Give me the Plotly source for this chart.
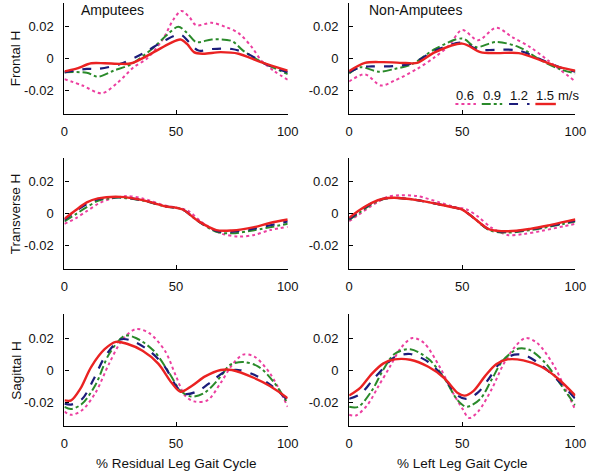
import plotly.graph_objects as go

# ---------------- data (x = % gait cycle, y = angular momentum H) ----------------
SPEEDS = ["0.6", "0.9", "1.2", "1.5"]

# Frontal H, Amputees
fa_06 = [(0,-0.013),(8,-0.017),(16.7,-0.0219),(24,-0.015),(31,-0.0055),(37,0.0),(44,0.012),(49,0.025),(52.5,0.030),(56,0.026),(59,0.021),(66,0.0225),(72,0.020),(78,0.016),(84,0.007),(88,-0.001),(94,-0.008),(100,-0.0134)]
fa_09 = [(0,-0.0087),(10,-0.009),(15,-0.0115),(22,-0.0077),(30,-0.0035),(40,0.007),(46,0.015),(51,0.020),(55,0.016),(59,0.0104),(66,0.012),(75,0.011),(80,0.005),(88,-0.002),(100,-0.0098)]
fa_12 = [(0,-0.0087),(10,-0.0066),(15,-0.0066),(25,-0.0034),(35,0.003),(45,0.0115),(52,0.015),(56,0.010),(60,0.005),(66,0.006),(75,0.006),(82,0.003),(90,-0.0034),(100,-0.0087)]
fa_15 = [(0,-0.0081),(5,-0.0066),(12,-0.003),(18,-0.003),(25,-0.0034),(30,-0.003),(40,0.004),(47,0.0094),(52,0.012),(55,0.009),(58,0.004),(62,0.003),(70,0.004),(78,0.003),(88,-0.0023),(100,-0.0077)]

# Frontal H, Non-Amputees
fn_06 = [(0,-0.0145),(7,-0.010),(14,-0.017),(20,-0.014),(30,-0.0066),(38,0.001),(44,0.008),(50,0.018),(57,0.0115),(65,0.0194),(72,0.0136),(80,0.0072),(88,-0.0013),(100,-0.0145)]
fn_09 = [(0,-0.0094),(5,-0.0055),(13,-0.0083),(20,-0.0066),(28,-0.0034),(38,0.006),(50,0.0126),(56,0.0072),(65,0.0104),(75,0.0072),(85,-0.0013),(93,-0.0066),(100,-0.0094)]
fn_12 = [(0,-0.0087),(5,-0.0055),(10,-0.005),(20,-0.0048),(28,-0.003),(38,0.005),(50,0.010),(57,0.0055),(65,0.0055),(75,0.005),(85,-0.0008),(93,-0.0055),(100,-0.0083)]
fn_15 = [(0,-0.008),(7,-0.0028),(15,-0.0023),(25,-0.0028),(30,-0.0028),(38,0.004),(50,0.0094),(58,0.004),(65,0.0034),(75,0.0034),(85,-0.0013),(93,-0.0055),(100,-0.0077)]

# Transverse H, Amputees
ta_06 = [(0,-0.0065),(5,-0.003),(10,0.0015),(15,0.006),(20,0.009),(28,0.011),(35,0.0095),(45,0.005),(50,0.0038),(55,0.002),(62,-0.006),(70,-0.0125),(78,-0.0145),(85,-0.0135),(92,-0.0105),(100,-0.0085)]
ta_09 = [(0,-0.005),(5,-0.0005),(10,0.004),(15,0.008),(20,0.0095),(25,0.010),(35,0.0082),(45,0.0045),(50,0.0036),(53,0.0025),(60,-0.005),(68,-0.0115),(75,-0.0125),(85,-0.0105),(100,-0.0065)]
ta_12 = [(0,-0.004),(5,0.0015),(10,0.006),(15,0.009),(25,0.0103),(35,0.0083),(45,0.0046),(50,0.0036),(53,0.0025),(60,-0.0048),(68,-0.011),(75,-0.0115),(85,-0.0095),(100,-0.005)]
ta_15 = [(0,-0.0034),(5,0.002),(10,0.007),(15,0.0095),(25,0.0105),(35,0.0084),(45,0.0046),(50,0.0036),(53,0.0025),(60,-0.0048),(68,-0.0105),(75,-0.0107),(85,-0.0086),(92,-0.006),(100,-0.0038)]

# Transverse H, Non-Amputees
tn_06 = [(0,-0.0048),(4,-0.001),(9,0.004),(13,0.0075),(17,0.0105),(22,0.0115),(30,0.011),(40,0.007),(47,0.004),(52,0.0025),(57,-0.002),(63,-0.009),(70,-0.0135),(77,-0.013),(85,-0.011),(95,-0.008),(100,-0.0065)]
tn_09 = [(0,-0.004),(5,0.001),(10,0.006),(15,0.009),(20,0.0098),(30,0.0085),(40,0.0057),(47,0.0036),(50,0.0025),(55,-0.0027),(62,-0.0105),(70,-0.012),(80,-0.0105),(88,-0.0085),(95,-0.0065),(100,-0.005)]
tn_12 = [(0,-0.0035),(5,0.0018),(10,0.0065),(15,0.0092),(20,0.0099),(30,0.0084),(40,0.0057),(47,0.0036),(50,0.0025),(55,-0.0027),(62,-0.0102),(70,-0.0115),(80,-0.010),(88,-0.008),(95,-0.006),(100,-0.0045)]
tn_15 = [(0,-0.0027),(5,0.0025),(10,0.0067),(15,0.0093),(20,0.0099),(30,0.0084),(40,0.0057),(47,0.0036),(50,0.0025),(55,-0.0027),(62,-0.010),(70,-0.0112),(80,-0.0097),(88,-0.0076),(95,-0.0053),(100,-0.0038)]

# Sagittal H, Amputees
sa_06 = [(0,-0.026),(3,-0.028),(8,-0.025),(14,-0.014),(20,0.004),(26,0.019),(32,0.0256),(38,0.023),(45,0.012),(50,-0.004),(54,-0.016),(58,-0.0196),(64,-0.019),(70,-0.008),(75,0.003),(80,0.0096),(85,0.0084),(92,-0.002),(100,-0.023)]
sa_09 = [(0,-0.023),(3,-0.0244),(8,-0.021),(14,-0.009),(20,0.010),(27,0.0214),(32,0.020),(40,0.012),(47,-0.002),(52,-0.013),(57,-0.0166),(63,-0.014),(70,-0.004),(74,0.003),(80,0.005),(87,0.002),(94,-0.008),(100,-0.021)]
sa_12 = [(0,-0.021),(3,-0.0216),(8,-0.018),(13,-0.006),(18,0.008),(25,0.019),(30,0.0184),(38,0.012),(45,0.002),(50,-0.010),(54,-0.015),(60,-0.013),(66,-0.007),(72,-0.001),(78,0.0),(85,-0.003),(93,-0.010),(100,-0.019)]
sa_15 = [(0,-0.019),(3,-0.019),(7,-0.012),(12,0.002),(18,0.013),(23,0.0176),(28,0.0164),(35,0.012),(42,0.004),(48,-0.008),(52,-0.0136),(57,-0.010),(63,-0.004),(70,0.0),(75,0.0),(85,-0.005),(92,-0.010),(100,-0.0176)]

# Sagittal H, Non-Amputees
sn_06 = [(0,-0.028),(3,-0.0284),(8,-0.022),(13,-0.010),(18,0.002),(23,0.014),(28,0.020),(33,0.017),(40,0.002),(45,-0.012),(50,-0.024),(53,-0.030),(57,-0.026),(63,-0.012),(68,0.003),(73,0.014),(78,0.020),(83,0.017),(90,0.004),(95,-0.010),(100,-0.025)]
sn_09 = [(0,-0.023),(4,-0.023),(10,-0.013),(15,0.0),(20,0.010),(27,0.013),(35,0.007),(42,-0.005),(48,-0.019),(52,-0.023),(58,-0.018),(63,-0.006),(68,0.006),(75,0.0134),(80,0.0124),(87,0.004),(93,-0.008),(100,-0.022)]
sn_12 = [(0,-0.018),(5,-0.015),(10,-0.007),(15,0.001),(20,0.008),(27,0.010),(35,0.005),(42,-0.005),(48,-0.016),(52,-0.018),(57,-0.014),(62,-0.005),(67,0.005),(73,0.0096),(78,0.009),(85,0.003),(92,-0.006),(100,-0.018)]
sn_15 = [(0,-0.016),(5,-0.011),(10,-0.0024),(15,0.004),(20,0.0066),(27,0.0064),(35,0.002),(42,-0.005),(48,-0.0144),(51,-0.016),(55,-0.013),(60,-0.004),(65,0.0036),(70,0.0066),(77,0.006),(85,0.002),(92,-0.005),(100,-0.016)]

X_TICKS = [0, 50, 100]
X_TICK_TEXT = ["0", "50", "100"]
Y_TICKS = [-0.02, 0, 0.02]
Y_TICK_TEXT = ["-0.02", "0", "0.02"]
ROW_LABELS = ["Frontal H", "Transverse H", "Sagittal H"]
COL_TITLES = ["Amputees", "Non-Amputees"]
X_TITLES = ["% Residual Leg Gait Cycle", "% Left Leg Gait Cycle"]

PANELS = [
    [[fa_06, fa_09, fa_12, fa_15], [fn_06, fn_09, fn_12, fn_15]],
    [[ta_06, ta_09, ta_12, ta_15], [tn_06, tn_09, tn_12, tn_15]],
    [[sa_06, sa_09, sa_12, sa_15], [sn_06, sn_09, sn_12, sn_15]],
]

# ---------------- styling ----------------
W, H = 600, 471
COLORS = ["#ec3fa0", "#2a8a2a", "#1c1c7a", "#ea2222"]
DASHES = ["dot", "dashdot", "dash", "solid"]
WIDTHS = [2.0, 2.0, 2.2, 2.4]
FONT = "Liberation Sans, Arial, sans-serif"
TXT = "#111111"

X_DOM = [[62/W, 291/W], [354/W, 586/W]]
Y_PIX = [(3, 114), (158, 269), (314, 426)]
Y_DOM = [[1 - b/H, 1 - t/H] for (t, b) in Y_PIX]

fig = go.Figure()
for r in range(3):
    for c in range(2):
        idx = r * 2 + c + 1
        xa = "x" if idx == 1 else f"x{idx}"
        ya = "y" if idx == 1 else f"y{idx}"
        for s in range(4):
            pts = PANELS[r][c][s]
            fig.add_trace(go.Scatter(
                x=[p[0] for p in pts], y=[p[1] for p in pts],
                mode="lines", line=dict(color=COLORS[s], dash=DASHES[s], width=WIDTHS[s],
                                        shape="spline", smoothing=0.9),
                xaxis=xa, yaxis=ya, showlegend=False, hoverinfo="skip"))
        axcommon = dict(showline=True, linecolor="#000", linewidth=1.3, ticks="inside",
                        ticklen=4, tickcolor="#000", showgrid=False, zeroline=False,
                        tickfont=dict(family=FONT, size=13, color=TXT))
        fig.layout[f"xaxis{'' if idx == 1 else idx}"] = dict(
            domain=X_DOM[c], anchor=ya, range=[0, 100], tickvals=X_TICKS,
            ticktext=X_TICK_TEXT, ticklabelstandoff=5, **axcommon)
        fig.layout[f"yaxis{'' if idx == 1 else idx}"] = dict(
            domain=Y_DOM[r], anchor=xa, range=[-0.035, 0.035], tickvals=Y_TICKS,
            ticktext=Y_TICK_TEXT, ticklabelstandoff=7, **axcommon)

ann = []
# row labels (left column only)
for r in range(3):
    ann.append(dict(text=ROW_LABELS[r], x=12/W, y=(Y_DOM[r][0] + Y_DOM[r][1]) / 2,
                    xref="paper", yref="paper", textangle=-90, showarrow=False,
                    font=dict(family=FONT, size=13.5, color=TXT), xanchor="center", yanchor="middle"))
# column titles
ann.append(dict(text=COL_TITLES[0], x=77/W, y=1 - 10/H, xref="paper", yref="paper",
                showarrow=False, xanchor="left", yanchor="middle",
                font=dict(family=FONT, size=14, color=TXT)))
ann.append(dict(text=COL_TITLES[1], x=372/W, y=1 - 10/H, xref="paper", yref="paper",
                showarrow=False, xanchor="left", yanchor="middle",
                font=dict(family=FONT, size=14, color=TXT)))
# x titles
for c in range(2):
    ann.append(dict(text=X_TITLES[c], x=(X_DOM[c][0] + X_DOM[c][1]) / 2, y=1 - 463/H,
                    xref="paper", yref="paper", showarrow=False, xanchor="center", yanchor="middle",
                    font=dict(family=FONT, size=13.5, color=TXT)))

# legend (text above line samples) in the top-right panel
LEG_X = [463, 490, 518, 545]
shapes = []
for s in range(4):
    ann.append(dict(text=SPEEDS[s], x=(LEG_X[s] + 10)/W, y=1 - 96/H, xref="paper", yref="paper",
                    showarrow=False, xanchor="center", yanchor="middle",
                    font=dict(family=FONT, size=13, color=TXT)))
    shapes.append(dict(type="line", xref="paper", yref="paper",
                       x0=LEG_X[s]/W, x1=(LEG_X[s] + 21)/W, y0=1 - 104/H, y1=1 - 104/H,
                       line=dict(color=COLORS[s], dash=DASHES[s], width=WIDTHS[s])))
ann.append(dict(text="m/s", x=566/W, y=1 - 96/H, xref="paper", yref="paper",
                showarrow=False, xanchor="left", yanchor="middle",
                font=dict(family=FONT, size=13, color=TXT)))

fig.update_layout(width=W, height=H, margin=dict(l=0, r=0, t=0, b=0),
                  paper_bgcolor="white", plot_bgcolor="white",
                  annotations=ann, shapes=shapes)

fig.write_html("out.html", config={"displayModeBar": False},
               post_script="document.body.style.margin='0';document.body.style.padding='0';")
